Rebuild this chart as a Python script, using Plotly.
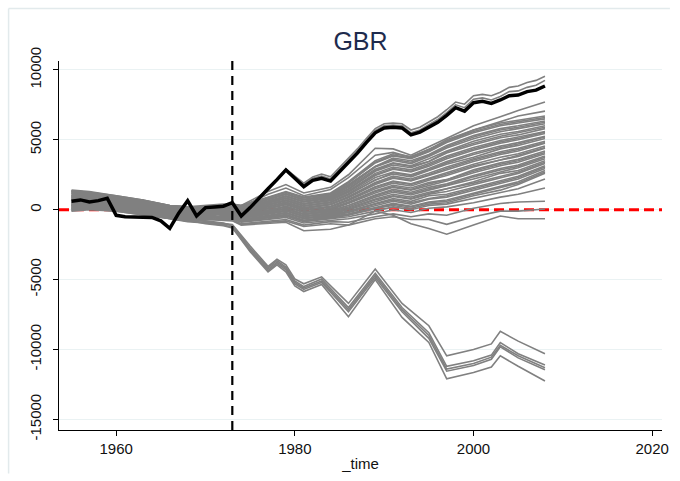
import plotly.graph_objects as go

# ---------------------------------------------------------------- data
years = list(range(1955, 2009))

# treated unit: gap between GBR and its synthetic control
gbr_gap = [600, 700, 550, 650, 820, -400, -500, -500, -500, -550,
           -800, -1330, -250, 650, -450, 150, 200, 250, 500, -450,
           150, 850, 1500, 2150, 2850, 2250, 1650, 2100, 2250, 2050,
           2700, 3400, 4050, 4800, 5500, 5850, 5900, 5850, 5350, 5550,
           5900, 6250, 6750, 7300, 7050, 7650, 7750, 7600, 7850, 8150,
           8200, 8450, 8550, 8850]

# two placebo units that run just above the treated gap
placebo_near_a = [900, 850, 800, 750, 900, 500, 400, 350, 300, 250,
                  100, 0, -50, -100, -150, 0, 50, 100, 300, -500,
                  100, 800, 1450, 2100, 2800, 2350, 1800, 2250, 2400, 2200,
                  2850, 3550, 4200, 4950, 5650, 6000, 6050, 6000, 5500, 5700,
                  6100, 6450, 6950, 7500, 7300, 7900, 8000, 7850, 8100, 8450,
                  8500, 8750, 8900, 9250]
placebo_near_b = [1200, 1150, 1100, 1000, 1050, 700, 600, 500, 450, 400,
                  300, 250, 150, 200, 250, 300, 350, 400, 350, -400,
                  200, 900, 1550, 2200, 2900, 2400, 1900, 2350, 2550, 2350,
                  3000, 3700, 4350, 5100, 5800, 6150, 6200, 6150, 5700, 5900,
                  6300, 6650, 7150, 7700, 7550, 8150, 8250, 8150, 8400, 8750,
                  8850, 9100, 9250, 9550]

# placebo units of the main band, read at these years
band_years = [1955, 1957, 1960, 1963, 1966, 1968, 1970, 1973, 1974, 1977,
              1979, 1981, 1984, 1986, 1989, 1991, 1993, 1995, 1997, 2000,
              2003, 2005, 2008]

band_lines = [
    [-100, 0, -100, -350, -600, -800, -700, -600, -850, -600, -400, -800, -600, -400, 100, 300, 100, 400, 500, 1000, 1400, 1800, 2600],
    [150, 200, 50, -200, -450, -650, -550, -600, -800, -550, -350, -750, -550, -350, 50, 400, 200, 500, 600, 1100, 1600, 1900, 2700],
    [350, 400, 250, -50, -350, -500, -450, -550, -800, -550, -350, -750, -500, -300, 150, 450, 250, 550, 700, 1200, 1700, 2000, 2800],
    [800, 800, 550, 300, -50, -200, -150, -500, -750, -450, -250, -650, -450, -200, 300, 600, 400, 750, 900, 1400, 1900, 2200, 2950],
    [1050, 1000, 750, 450, 100, -50, 0, -500, -700, -450, -200, -600, -400, -150, 400, 700, 500, 800, 1000, 1500, 2000, 2300, 3050],
    [1250, 1200, 900, 600, 200, 100, 100, -450, -700, -400, -200, -600, -350, -100, 450, 800, 600, 1000, 1100, 1600, 2100, 2400, 3150],
    [150, 250, 100, -150, -450, -600, -550, -450, -650, -350, -100, -500, -300, 0, 600, 950, 750, 1100, 1300, 1800, 2300, 2600, 3300],
    [500, 550, 350, 100, -250, -400, -350, -400, -600, -300, -50, -450, -250, 50, 700, 1000, 800, 1150, 1500, 1900, 2400, 2700, 3400],
    [600, 600, 450, 150, -150, -300, -250, -400, -600, -300, -50, -450, -200, 120, 760, 1100, 900, 1250, 1500, 2000, 2600, 2800, 3500],
    [1050, 1000, 750, 450, 100, 0, 0, -350, -550, -200, 50, -350, -150, 200, 900, 1250, 1050, 1400, 1700, 2200, 2700, 3000, 3650],
    [1300, 1200, 950, 650, 250, 150, 150, -300, -500, -200, 100, -300, -100, 300, 1000, 1350, 1150, 1500, 1750, 2350, 2850, 3100, 3750],
    [-50, 50, -50, -300, -550, -750, -650, -300, -500, -150, 100, -300, -50, 300, 1050, 1450, 1250, 1600, 1850, 2450, 2950, 3200, 3850],
    [400, 450, 300, 0, -300, -450, -400, -250, -450, -100, 200, -200, 0, 450, 1200, 1600, 1400, 1750, 2050, 2650, 3150, 3400, 4000],
    [-50, 50, -100, -350, -600, -800, -700, -250, -400, -50, 250, -150, 50, 500, 1300, 1650, 1450, 1850, 2150, 2750, 3250, 3500, 4100],
    [900, 850, 600, 350, 0, -150, -100, -200, -400, 0, 250, -150, 100, 550, 1350, 1750, 1550, 1950, 2150, 2850, 3350, 3600, 4200],
    [1350, 1250, 950, 650, 250, 150, 150, -150, -350, 50, 350, -50, 200, 650, 1500, 1900, 1700, 2100, 2450, 3050, 3550, 3800, 4400],
    [800, 750, 550, 250, -50, -200, -150, -150, -300, 100, 400, 0, 200, 700, 1600, 2000, 1800, 2200, 2550, 3150, 3550, 3900, 4450],
    [250, 300, 150, -100, -400, -600, -500, -100, -300, 100, 400, 0, 250, 750, 1650, 2050, 1850, 2250, 2650, 3250, 3750, 4000, 4550],
    [700, 700, 500, 200, -150, -300, -250, -100, -250, 200, 500, 100, 350, 850, 1800, 2250, 2050, 2450, 2850, 3450, 3950, 4200, 4750],
    [300, 350, 200, -50, -350, -500, -450, -50, -200, 200, 500, 100, 400, 900, 1900, 2300, 2100, 2500, 2950, 3550, 4050, 4300, 4800],
    [1150, 1050, 800, 500, 150, 0, 50, -50, -200, 250, 550, 150, 400, 950, 1950, 2400, 2200, 2600, 3050, 3650, 4150, 4400, 4900],
    [50, 100, 0, -250, -500, -700, -600, 0, -150, 300, 650, 250, 500, 1050, 2150, 2550, 2350, 2800, 3250, 3750, 4350, 4600, 5100],
    [1150, 1100, 850, 550, 150, 50, 50, 50, -100, 350, 650, 250, 550, 1100, 2100, 2650, 2450, 2850, 3350, 3950, 4450, 4700, 5200],
    [500, 500, 350, 50, -250, -400, -350, 50, -100, 400, 700, 300, 550, 1150, 2300, 2700, 2500, 2950, 3450, 4050, 4550, 4800, 5250],
    [950, 900, 650, 400, 0, -100, -100, 100, -50, 450, 800, 400, 650, 1250, 2450, 2900, 2700, 3100, 3650, 4250, 4750, 5000, 5450],
    [650, 650, 450, 150, -150, -300, -250, 100, 0, 450, 800, 400, 700, 1300, 2500, 2950, 2750, 3200, 3750, 4350, 4850, 5100, 5550],
    [1400, 1300, 1000, 700, 300, 200, 200, 150, 0, 500, 850, 450, 750, 1350, 2600, 3050, 2850, 3300, 3850, 4450, 4950, 5200, 5600],
    [300, 350, 200, -100, -350, -550, -450, 200, 50, 550, 950, 550, 800, 1450, 2750, 3200, 3000, 3450, 4050, 4650, 5150, 5350, 5800],
    [50, 150, 0, -250, -500, -700, -600, 200, 50, 600, 950, 550, 850, 1500, 2800, 3300, 3100, 3450, 4150, 4750, 5250, 5500, 5900],
    [750, 750, 500, 250, -100, -250, -200, 250, 100, 650, 1000, 600, 900, 1600, 2900, 3350, 3150, 3650, 4200, 4900, 5400, 5600, 6000],
    [1200, 1150, 850, 550, 200, 50, 100, 250, 150, 700, 1100, 700, 950, 1680, 3050, 3520, 3300, 3800, 4420, 5080, 5580, 5800, 6150],
    [900, 900, 650, 350, 0, -150, -100, 300, 150, 750, 1100, 700, 1000, 1750, 3100, 3600, 3400, 3900, 4500, 5200, 5700, 5900, 6250],
    [100, 150, 50, -200, -500, -650, -600, 300, 200, 750, 1150, 750, 1050, 1800, 3100, 3700, 3500, 3950, 4600, 5300, 5800, 6000, 6350],
    [550, 550, 400, 100, -200, -350, -300, 350, 250, 850, 1250, 850, 1100, 1900, 3350, 3850, 3650, 4150, 4800, 5500, 6000, 6200, 6500],
    [1350, 1250, 1000, 700, 300, 200, 200, 400, 300, 850, 1250, 850, 1150, 1950, 3400, 3900, 3700, 4200, 4900, 5600, 6100, 6300, 6600],
    [1000, 950, 700, 450, 50, -50, -50, 400, 300, 900, 1300, 900, 1200, 2000, 3500, 4000, 3800, 4300, 5000, 5700, 6200, 6400, 6700],
]

# placebo units above the band
band_upper = [
    [1300, 1100, 800, 500, 200, 100, 150, 300, 300, 1300, 1800, 1200, 1600, 2500, 4400, 4350, 3900, 4500, 5100, 6000, 6650, 7100, 7700],
    [1000, 1200, 900, 650, 300, 200, 200, 350, 200, 1100, 1550, 1000, 1450, 2300, 3900, 4100, 3750, 4350, 4900, 5700, 6300, 6700, 7050],
]

# placebo units below the band
band_lower = [
    [200, 300, 100, -200, -400, -600, -600, -500, -800, -650, -450, -850, -650, -500, -100, 200, 0, 300, 400, 800, 1200, 1500, 2200],
    [500, 400, 200, -100, -450, -650, -550, -650, -900, -700, -550, -950, -750, -650, -300, 0, -200, 100, 200, 500, 900, 1100, 1550],
    [0, 100, -50, -300, -550, -750, -700, -700, -1000, -800, -700, -1100, -850, -900, -500, -300, -500, -300, -400, 100, 450, 550, 600],
    [800, 700, 400, 150, -200, -400, -350, -750, -1050, -900, -800, -1200, -1000, -1100, -650, -500, -700, -700, -1050, -500, -100, -100, 50],
    [300, 200, 0, -300, -600, -800, -700, -800, -1100, -1000, -900, -1500, -1400, -1100, -100, -400, -1000, -1350, -1750, -1100, -450, -650, -650],
]

# placebo units that fall far below zero after 1973
low_years = [1955, 1958, 1960, 1963, 1966, 1968, 1970, 1972, 1973, 1975,
             1977, 1978, 1979, 1980, 1981, 1983, 1986, 1989, 1992, 1995,
             1997, 2000, 2002, 2003, 2005, 2008]

low_lines = [
    [500, 400, 200, -100, -450, -700, -850, -950, -1050, -2600, -4050, -3550, -3950, -4950, -5300, -4800, -6700, -4250, -6700, -8300, -10450, -10000, -9600, -8700, -9400, -10300],
    [300, 350, 100, -200, -550, -800, -900, -1000, -1100, -2750, -4150, -3650, -4100, -5100, -5500, -4950, -7000, -4550, -7000, -8800, -11200, -10800, -10400, -9500, -10300, -11100],
    [700, 500, 300, 0, -400, -650, -800, -950, -1150, -2800, -4250, -3750, -4200, -5200, -5600, -5100, -7150, -4700, -7150, -9000, -11400, -11000, -10550, -9700, -10450, -11300],
    [100, 200, 0, -300, -600, -850, -950, -1100, -1250, -2900, -4350, -3850, -4300, -5300, -5700, -5200, -7300, -4850, -7300, -9200, -11550, -11150, -10700, -9800, -10600, -11450],
    [400, 300, 100, -150, -500, -750, -1000, -1150, -1300, -3000, -4450, -3950, -4450, -5450, -5850, -5350, -7650, -5000, -7700, -9500, -12100, -11650, -11250, -10450, -11200, -12250],
]

treatment_year = 1973
x_range = [1953.6, 2021.1]
x_ticks = [1960, 1980, 2000, 2020]
y_ticks = [-15000, -10000, -5000, 0, 5000, 10000]
y_tick_text = ["-15000", "-10000", "-5000", "0", "5000", "10000"]

# ---------------------------------------------------------------- figure
FONT = "Arial, 'Liberation Sans', sans-serif"
GRAY = "rgb(128,128,128)"

fig = go.Figure()

# zero reference line, beneath the placebo lines
fig.add_trace(go.Scatter(x=x_range, y=[0, 0], mode="lines",
                         line=dict(color="#ff0000", width=3, dash="10px,5px"),
                         hoverinfo="skip", showlegend=False))


def add_placebo(x, y):
    fig.add_trace(go.Scatter(x=x, y=y, mode="lines",
                             line=dict(color=GRAY, width=1.6),
                             hoverinfo="skip", showlegend=False))


for row in low_lines:
    add_placebo(low_years, row)
for row in band_lower + band_lines + band_upper:
    add_placebo(band_years, row)
add_placebo(years, placebo_near_a)
add_placebo(years, placebo_near_b)

fig.add_trace(go.Scatter(x=years, y=gbr_gap, mode="lines",
                         line=dict(color="black", width=3.5),
                         hoverinfo="skip", showlegend=False))

# plot-area geometry in pixels
L, R, T, B = 59, 669, 61, 434
W, H = R - L, B - T


def px_x(p):
    return (p - L) / W


def px_y(p):
    return (B - p) / H


# frame lines stay inside the 680x481 canvas
frame = dict(color="#e2eaec", width=1.5)

fig.update_layout(
    width=680, height=481, autosize=False,
    margin=dict(l=L, r=680 - R, t=T, b=481 - B),
    paper_bgcolor="white", plot_bgcolor="white",
    font=dict(family=FONT, size=15, color="#111111"),
    title=dict(text="GBR", xref="paper", x=0.5, xanchor="center",
               yref="container", y=1 - 41 / 481, yanchor="middle",
               font=dict(family=FONT, size=25, color="#1e2b4d")),
    xaxis=dict(range=x_range, tickvals=x_ticks,
               showgrid=False, zeroline=False,
               showline=True, linecolor="black", linewidth=1,
               ticks="outside", ticklen=5, tickcolor="black",
               title=dict(text="_time", standoff=2,
                          font=dict(family=FONT, size=15, color="#111111"))),
    yaxis=dict(range=[-15757, 10637], tickvals=y_ticks, ticktext=y_tick_text,
               tickangle=-90, ticklabelstandoff=6,
               showgrid=True, gridcolor="#eaf2f3", gridwidth=1,
               zeroline=False,
               showline=True, linecolor="black", linewidth=1,
               ticks="outside", ticklen=5, tickcolor="black"),
    shapes=[
        # light outer frame of the graph region: top edge and left edge
        dict(type="line", xref="paper", yref="paper",
             x0=px_x(8), x1=px_x(677), y0=px_y(8), y1=px_y(8),
             line=frame, layer="below"),
        dict(type="line", xref="paper", yref="paper",
             x0=px_x(8), x1=px_x(8), y0=px_y(8), y1=px_y(478),
             line=frame, layer="below"),
        # treatment year
        dict(type="line", xref="x", yref="paper",
             x0=treatment_year, x1=treatment_year, y0=0, y1=1,
             line=dict(color="black", width=2.2, dash="9px,6px"),
             layer="above"),
    ],
)

fig.write_html("out.html")
